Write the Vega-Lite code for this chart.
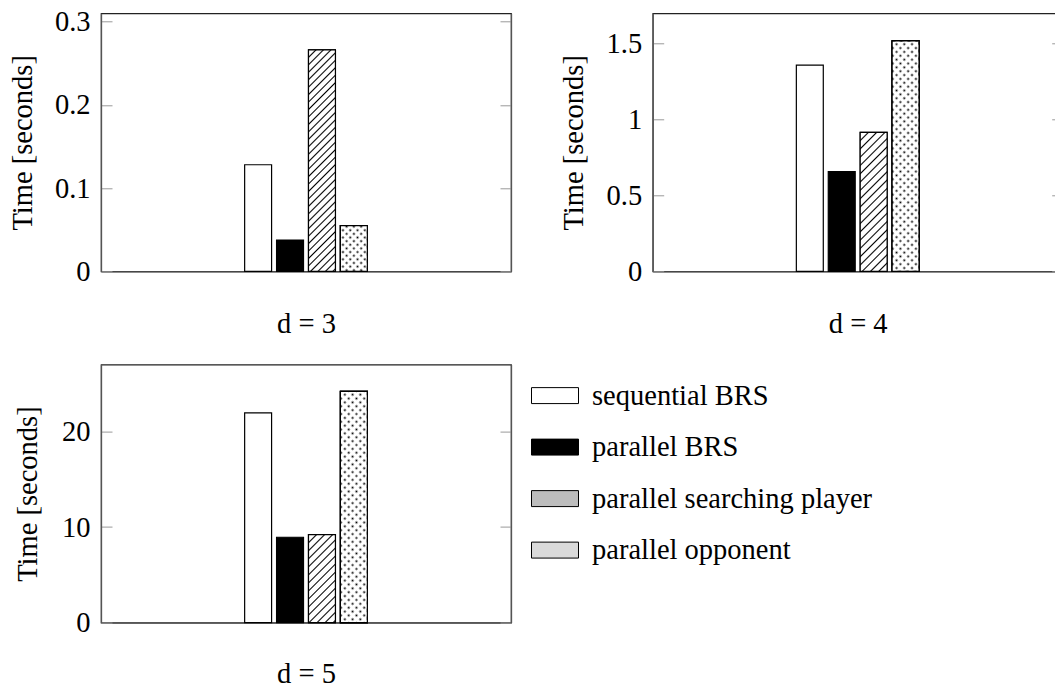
{
"$schema": "https://vega.github.io/schema/vega-lite/v6.json",
"autosize": {"type": "none"},
"padding": {"left": 101, "top": 13.3, "right": 954, "bottom": 675.7},
"background": "white",
"datasets": {
"d3": [{"series": "sequential BRS", "value": 0.128}, {"series": "parallel BRS", "value": 0.0376}, {"series": "parallel searching player", "value": 0.266}, {"series": "parallel opponent", "value": 0.055}],
"d4": [{"series": "sequential BRS", "value": 1.358}, {"series": "parallel BRS", "value": 0.657}, {"series": "parallel searching player", "value": 0.916}, {"series": "parallel opponent", "value": 1.518}],
"d5": [{"series": "sequential BRS", "value": 21.95}, {"series": "parallel BRS", "value": 8.93}, {"series": "parallel searching player", "value": 9.2}, {"series": "parallel opponent", "value": 24.2}]
},
"columns": 2,
"spacing": {"row": 93.3, "column": 141.7},
"bounds": "flush",
"resolve": {"scale": {"color": "independent", "stroke": "independent"}},
"concat": [
{
"width": 410, "height": 258,
"data": {"name": "d3"},
"encoding": {"x": {"field": "series", "type": "nominal", "scale": {"domain": ["p1", "p2", "p3", "p4", "sequential BRS", "parallel BRS", "parallel searching player", "parallel opponent", "q1", "q2", "q3", "q4"], "paddingInner": 0.156, "paddingOuter": 0.5}, "axis": {"labels": false, "ticks": false, "title": "d = 3", "titleY": 61}}},
"layer": [
{"mark": {"type": "bar", "stroke": "black", "strokeWidth": 1.2},
 "encoding": {"y": {"field": "value", "type": "quantitative", "scale": {"domain": [0, 0.31], "nice": false}, "axis": {"orient": "left", "values": [0, 0.1, 0.2, 0.3], "format": "~f", "title": "Time [seconds]", "titleX": -69.5, "titleY": 129}},
 "color": {"field": "series", "type": "nominal", "scale": {"domain": ["sequential BRS", "parallel BRS", "parallel searching player", "parallel opponent"], "range": ["#fff", "#000", "#fff", "#fff"]}, "legend": null}}},
{"transform": [{"filter": {"field": "series", "equal": "parallel searching player"}}],
 "mark": {"type": "bar", "stroke": "black", "strokeWidth": 1.2, "fill": {"gradient": "linear", "x1": 0, "y1": 0, "x2": 0.1345, "y2": 1.1053, "stops": [
{"offset":0.024,"color":"#fff"},{"offset":0.03,"color":"#000"},{"offset":0.036,"color":"#fff"},
{"offset":0.054,"color":"#fff"},{"offset":0.06,"color":"#000"},{"offset":0.066,"color":"#fff"},
{"offset":0.084,"color":"#fff"},{"offset":0.09,"color":"#000"},{"offset":0.096,"color":"#fff"},
{"offset":0.114,"color":"#fff"},{"offset":0.12,"color":"#000"},{"offset":0.126,"color":"#fff"},
{"offset":0.144,"color":"#fff"},{"offset":0.15,"color":"#000"},{"offset":0.156,"color":"#fff"},
{"offset":0.174,"color":"#fff"},{"offset":0.18,"color":"#000"},{"offset":0.186,"color":"#fff"},
{"offset":0.204,"color":"#fff"},{"offset":0.21,"color":"#000"},{"offset":0.216,"color":"#fff"},
{"offset":0.234,"color":"#fff"},{"offset":0.24,"color":"#000"},{"offset":0.246,"color":"#fff"},
{"offset":0.264,"color":"#fff"},{"offset":0.27,"color":"#000"},{"offset":0.276,"color":"#fff"},
{"offset":0.294,"color":"#fff"},{"offset":0.3,"color":"#000"},{"offset":0.306,"color":"#fff"},
{"offset":0.324,"color":"#fff"},{"offset":0.33,"color":"#000"},{"offset":0.336,"color":"#fff"},
{"offset":0.354,"color":"#fff"},{"offset":0.36,"color":"#000"},{"offset":0.366,"color":"#fff"},
{"offset":0.384,"color":"#fff"},{"offset":0.39,"color":"#000"},{"offset":0.396,"color":"#fff"},
{"offset":0.414,"color":"#fff"},{"offset":0.42,"color":"#000"},{"offset":0.426,"color":"#fff"},
{"offset":0.444,"color":"#fff"},{"offset":0.45,"color":"#000"},{"offset":0.456,"color":"#fff"},
{"offset":0.474,"color":"#fff"},{"offset":0.48,"color":"#000"},{"offset":0.486,"color":"#fff"},
{"offset":0.504,"color":"#fff"},{"offset":0.51,"color":"#000"},{"offset":0.516,"color":"#fff"},
{"offset":0.534,"color":"#fff"},{"offset":0.54,"color":"#000"},{"offset":0.546,"color":"#fff"},
{"offset":0.564,"color":"#fff"},{"offset":0.57,"color":"#000"},{"offset":0.576,"color":"#fff"},
{"offset":0.594,"color":"#fff"},{"offset":0.6,"color":"#000"},{"offset":0.606,"color":"#fff"},
{"offset":0.624,"color":"#fff"},{"offset":0.63,"color":"#000"},{"offset":0.636,"color":"#fff"},
{"offset":0.654,"color":"#fff"},{"offset":0.66,"color":"#000"},{"offset":0.666,"color":"#fff"},
{"offset":0.684,"color":"#fff"},{"offset":0.69,"color":"#000"},{"offset":0.696,"color":"#fff"},
{"offset":0.714,"color":"#fff"},{"offset":0.72,"color":"#000"},{"offset":0.726,"color":"#fff"},
{"offset":0.744,"color":"#fff"},{"offset":0.75,"color":"#000"},{"offset":0.756,"color":"#fff"},
{"offset":0.774,"color":"#fff"},{"offset":0.78,"color":"#000"},{"offset":0.786,"color":"#fff"},
{"offset":0.804,"color":"#fff"},{"offset":0.81,"color":"#000"},{"offset":0.816,"color":"#fff"},
{"offset":0.834,"color":"#fff"},{"offset":0.84,"color":"#000"},{"offset":0.846,"color":"#fff"},
{"offset":0.864,"color":"#fff"},{"offset":0.87,"color":"#000"},{"offset":0.876,"color":"#fff"},
{"offset":0.894,"color":"#fff"},{"offset":0.9,"color":"#000"},{"offset":0.906,"color":"#fff"},
{"offset":0.924,"color":"#fff"},{"offset":0.93,"color":"#000"},{"offset":0.936,"color":"#fff"},
{"offset":0.954,"color":"#fff"},{"offset":0.96,"color":"#000"},{"offset":0.966,"color":"#fff"},
{"offset":0.984,"color":"#fff"},{"offset":0.99,"color":"#000"},{"offset":0.996,"color":"#fff"}]}},
 "encoding": {"y": {"field": "value", "type": "quantitative", "axis": null}}},
{"transform": [{"filter": {"field": "series", "equal": "parallel opponent"}}],
 "mark": {"type": "bar", "stroke": "black", "strokeWidth": 1.2, "fill": "#000"},
 "encoding": {"y": {"field": "value", "type": "quantitative", "axis": null}}},
{"transform": [{"filter": {"field": "series", "equal": "parallel opponent"}}],
 "mark": {"type": "bar", "stroke": "black", "strokeWidth": 1.2, "fill": {"gradient": "linear", "x1": 0, "y1": 0, "x2": 0.6941, "y2": 1.18, "stops": [
{"offset":0.065,"color":"#fff"},{"offset":0.1,"color":"#fff0"},{"offset":0.135,"color":"#fff"},
{"offset":0.165,"color":"#fff"},{"offset":0.2,"color":"#fff0"},{"offset":0.235,"color":"#fff"},
{"offset":0.265,"color":"#fff"},{"offset":0.3,"color":"#fff0"},{"offset":0.335,"color":"#fff"},
{"offset":0.365,"color":"#fff"},{"offset":0.4,"color":"#fff0"},{"offset":0.435,"color":"#fff"},
{"offset":0.465,"color":"#fff"},{"offset":0.5,"color":"#fff0"},{"offset":0.535,"color":"#fff"},
{"offset":0.565,"color":"#fff"},{"offset":0.6,"color":"#fff0"},{"offset":0.635,"color":"#fff"},
{"offset":0.665,"color":"#fff"},{"offset":0.7,"color":"#fff0"},{"offset":0.735,"color":"#fff"},
{"offset":0.765,"color":"#fff"},{"offset":0.8,"color":"#fff0"},{"offset":0.835,"color":"#fff"},
{"offset":0.865,"color":"#fff"},{"offset":0.9,"color":"#fff0"},{"offset":0.935,"color":"#fff"}]}},
 "encoding": {"y": {"field": "value", "type": "quantitative", "axis": null}}},
{"transform": [{"filter": {"field": "series", "equal": "parallel opponent"}}],
 "mark": {"type": "bar", "stroke": "black", "strokeWidth": 1.2, "fill": {"gradient": "linear", "x1": 0, "y1": 1, "x2": 0.6941, "y2": -0.18, "stops": [
{"offset":0.065,"color":"#fff"},{"offset":0.1,"color":"#fff0"},{"offset":0.135,"color":"#fff"},
{"offset":0.165,"color":"#fff"},{"offset":0.2,"color":"#fff0"},{"offset":0.235,"color":"#fff"},
{"offset":0.265,"color":"#fff"},{"offset":0.3,"color":"#fff0"},{"offset":0.335,"color":"#fff"},
{"offset":0.365,"color":"#fff"},{"offset":0.4,"color":"#fff0"},{"offset":0.435,"color":"#fff"},
{"offset":0.465,"color":"#fff"},{"offset":0.5,"color":"#fff0"},{"offset":0.535,"color":"#fff"},
{"offset":0.565,"color":"#fff"},{"offset":0.6,"color":"#fff0"},{"offset":0.635,"color":"#fff"},
{"offset":0.665,"color":"#fff"},{"offset":0.7,"color":"#fff0"},{"offset":0.735,"color":"#fff"},
{"offset":0.765,"color":"#fff"},{"offset":0.8,"color":"#fff0"},{"offset":0.835,"color":"#fff"},
{"offset":0.865,"color":"#fff"},{"offset":0.9,"color":"#fff0"},{"offset":0.935,"color":"#fff"}]}},
 "encoding": {"y": {"field": "value", "type": "quantitative", "axis": null}}},
{"mark": {"type": "bar", "opacity": 0},
 "encoding": {"y": {"field": "value", "type": "quantitative", "axis": {"orient": "right", "values": [0, 0.1, 0.2, 0.3], "labels": false, "title": null}}}}
],
"resolve": {"axis": {"y": "independent"}}
},
{
"width": 410, "height": 258,
"data": {"name": "d4"},
"encoding": {"x": {"field": "series", "type": "nominal", "scale": {"domain": ["p1", "p2", "p3", "p4", "sequential BRS", "parallel BRS", "parallel searching player", "parallel opponent", "q1", "q2", "q3", "q4"], "paddingInner": 0.156, "paddingOuter": 0.5}, "axis": {"labels": false, "ticks": false, "title": "d = 4", "titleY": 61}}},
"layer": [
{"mark": {"type": "bar", "stroke": "black", "strokeWidth": 1.2},
 "encoding": {"y": {"field": "value", "type": "quantitative", "scale": {"domain": [0, 1.7], "nice": false}, "axis": {"orient": "left", "values": [0, 0.5, 1, 1.5], "format": "~f", "title": "Time [seconds]", "titleX": -70.5, "titleY": 129}},
 "color": {"field": "series", "type": "nominal", "scale": {"domain": ["sequential BRS", "parallel BRS", "parallel searching player", "parallel opponent"], "range": ["#fff", "#000", "#fff", "#fff"]}, "legend": null}}},
{"transform": [{"filter": {"field": "series", "equal": "parallel searching player"}}],
 "mark": {"type": "bar", "stroke": "black", "strokeWidth": 1.2, "fill": {"gradient": "linear", "x1": 0, "y1": 0, "x2": 0.223, "y2": 1.1506, "stops": [
{"offset":0.041,"color":"#fff"},{"offset":0.05,"color":"#000"},{"offset":0.059,"color":"#fff"},
{"offset":0.091,"color":"#fff"},{"offset":0.1,"color":"#000"},{"offset":0.109,"color":"#fff"},
{"offset":0.141,"color":"#fff"},{"offset":0.15,"color":"#000"},{"offset":0.159,"color":"#fff"},
{"offset":0.191,"color":"#fff"},{"offset":0.2,"color":"#000"},{"offset":0.209,"color":"#fff"},
{"offset":0.241,"color":"#fff"},{"offset":0.25,"color":"#000"},{"offset":0.259,"color":"#fff"},
{"offset":0.291,"color":"#fff"},{"offset":0.3,"color":"#000"},{"offset":0.309,"color":"#fff"},
{"offset":0.341,"color":"#fff"},{"offset":0.35,"color":"#000"},{"offset":0.359,"color":"#fff"},
{"offset":0.391,"color":"#fff"},{"offset":0.4,"color":"#000"},{"offset":0.409,"color":"#fff"},
{"offset":0.441,"color":"#fff"},{"offset":0.45,"color":"#000"},{"offset":0.459,"color":"#fff"},
{"offset":0.491,"color":"#fff"},{"offset":0.5,"color":"#000"},{"offset":0.509,"color":"#fff"},
{"offset":0.541,"color":"#fff"},{"offset":0.55,"color":"#000"},{"offset":0.559,"color":"#fff"},
{"offset":0.591,"color":"#fff"},{"offset":0.6,"color":"#000"},{"offset":0.609,"color":"#fff"},
{"offset":0.641,"color":"#fff"},{"offset":0.65,"color":"#000"},{"offset":0.659,"color":"#fff"},
{"offset":0.691,"color":"#fff"},{"offset":0.7,"color":"#000"},{"offset":0.709,"color":"#fff"},
{"offset":0.741,"color":"#fff"},{"offset":0.75,"color":"#000"},{"offset":0.759,"color":"#fff"},
{"offset":0.791,"color":"#fff"},{"offset":0.8,"color":"#000"},{"offset":0.809,"color":"#fff"},
{"offset":0.841,"color":"#fff"},{"offset":0.85,"color":"#000"},{"offset":0.859,"color":"#fff"},
{"offset":0.891,"color":"#fff"},{"offset":0.9,"color":"#000"},{"offset":0.909,"color":"#fff"},
{"offset":0.941,"color":"#fff"},{"offset":0.95,"color":"#000"},{"offset":0.959,"color":"#fff"}]}},
 "encoding": {"y": {"field": "value", "type": "quantitative", "axis": null}}},
{"transform": [{"filter": {"field": "series", "equal": "parallel opponent"}}],
 "mark": {"type": "bar", "stroke": "black", "strokeWidth": 1.2, "fill": "#000"},
 "encoding": {"y": {"field": "value", "type": "quantitative", "axis": null}}},
{"transform": [{"filter": {"field": "series", "equal": "parallel opponent"}}],
 "mark": {"type": "bar", "stroke": "black", "strokeWidth": 1.2, "fill": {"gradient": "linear", "x1": 0, "y1": 0, "x2": 0.1286, "y2": 1.1017, "stops": [
{"offset":0.02,"color":"#fff"},{"offset":0.03,"color":"#fff0"},{"offset":0.04,"color":"#fff"},
{"offset":0.05,"color":"#fff"},{"offset":0.06,"color":"#fff0"},{"offset":0.07,"color":"#fff"},
{"offset":0.08,"color":"#fff"},{"offset":0.09,"color":"#fff0"},{"offset":0.1,"color":"#fff"},
{"offset":0.11,"color":"#fff"},{"offset":0.12,"color":"#fff0"},{"offset":0.13,"color":"#fff"},
{"offset":0.14,"color":"#fff"},{"offset":0.15,"color":"#fff0"},{"offset":0.16,"color":"#fff"},
{"offset":0.17,"color":"#fff"},{"offset":0.18,"color":"#fff0"},{"offset":0.19,"color":"#fff"},
{"offset":0.2,"color":"#fff"},{"offset":0.21,"color":"#fff0"},{"offset":0.22,"color":"#fff"},
{"offset":0.23,"color":"#fff"},{"offset":0.24,"color":"#fff0"},{"offset":0.25,"color":"#fff"},
{"offset":0.26,"color":"#fff"},{"offset":0.27,"color":"#fff0"},{"offset":0.28,"color":"#fff"},
{"offset":0.29,"color":"#fff"},{"offset":0.3,"color":"#fff0"},{"offset":0.31,"color":"#fff"},
{"offset":0.32,"color":"#fff"},{"offset":0.33,"color":"#fff0"},{"offset":0.34,"color":"#fff"},
{"offset":0.35,"color":"#fff"},{"offset":0.36,"color":"#fff0"},{"offset":0.37,"color":"#fff"},
{"offset":0.38,"color":"#fff"},{"offset":0.39,"color":"#fff0"},{"offset":0.4,"color":"#fff"},
{"offset":0.41,"color":"#fff"},{"offset":0.42,"color":"#fff0"},{"offset":0.43,"color":"#fff"},
{"offset":0.44,"color":"#fff"},{"offset":0.45,"color":"#fff0"},{"offset":0.46,"color":"#fff"},
{"offset":0.47,"color":"#fff"},{"offset":0.48,"color":"#fff0"},{"offset":0.49,"color":"#fff"},
{"offset":0.5,"color":"#fff"},{"offset":0.51,"color":"#fff0"},{"offset":0.52,"color":"#fff"},
{"offset":0.53,"color":"#fff"},{"offset":0.54,"color":"#fff0"},{"offset":0.55,"color":"#fff"},
{"offset":0.56,"color":"#fff"},{"offset":0.57,"color":"#fff0"},{"offset":0.58,"color":"#fff"},
{"offset":0.59,"color":"#fff"},{"offset":0.6,"color":"#fff0"},{"offset":0.61,"color":"#fff"},
{"offset":0.62,"color":"#fff"},{"offset":0.63,"color":"#fff0"},{"offset":0.64,"color":"#fff"},
{"offset":0.65,"color":"#fff"},{"offset":0.66,"color":"#fff0"},{"offset":0.67,"color":"#fff"},
{"offset":0.68,"color":"#fff"},{"offset":0.69,"color":"#fff0"},{"offset":0.7,"color":"#fff"},
{"offset":0.71,"color":"#fff"},{"offset":0.72,"color":"#fff0"},{"offset":0.73,"color":"#fff"},
{"offset":0.74,"color":"#fff"},{"offset":0.75,"color":"#fff0"},{"offset":0.76,"color":"#fff"},
{"offset":0.77,"color":"#fff"},{"offset":0.78,"color":"#fff0"},{"offset":0.79,"color":"#fff"},
{"offset":0.8,"color":"#fff"},{"offset":0.81,"color":"#fff0"},{"offset":0.82,"color":"#fff"},
{"offset":0.83,"color":"#fff"},{"offset":0.84,"color":"#fff0"},{"offset":0.85,"color":"#fff"},
{"offset":0.86,"color":"#fff"},{"offset":0.87,"color":"#fff0"},{"offset":0.88,"color":"#fff"},
{"offset":0.89,"color":"#fff"},{"offset":0.9,"color":"#fff0"},{"offset":0.91,"color":"#fff"},
{"offset":0.92,"color":"#fff"},{"offset":0.93,"color":"#fff0"},{"offset":0.94,"color":"#fff"},
{"offset":0.95,"color":"#fff"},{"offset":0.96,"color":"#fff0"},{"offset":0.97,"color":"#fff"},
{"offset":0.98,"color":"#fff"},{"offset":0.99,"color":"#fff0"},{"offset":1,"color":"#fff"}]}},
 "encoding": {"y": {"field": "value", "type": "quantitative", "axis": null}}},
{"transform": [{"filter": {"field": "series", "equal": "parallel opponent"}}],
 "mark": {"type": "bar", "stroke": "black", "strokeWidth": 1.2, "fill": {"gradient": "linear", "x1": 0, "y1": 1, "x2": 0.1286, "y2": -0.1017, "stops": [
{"offset":0.02,"color":"#fff"},{"offset":0.03,"color":"#fff0"},{"offset":0.04,"color":"#fff"},
{"offset":0.05,"color":"#fff"},{"offset":0.06,"color":"#fff0"},{"offset":0.07,"color":"#fff"},
{"offset":0.08,"color":"#fff"},{"offset":0.09,"color":"#fff0"},{"offset":0.1,"color":"#fff"},
{"offset":0.11,"color":"#fff"},{"offset":0.12,"color":"#fff0"},{"offset":0.13,"color":"#fff"},
{"offset":0.14,"color":"#fff"},{"offset":0.15,"color":"#fff0"},{"offset":0.16,"color":"#fff"},
{"offset":0.17,"color":"#fff"},{"offset":0.18,"color":"#fff0"},{"offset":0.19,"color":"#fff"},
{"offset":0.2,"color":"#fff"},{"offset":0.21,"color":"#fff0"},{"offset":0.22,"color":"#fff"},
{"offset":0.23,"color":"#fff"},{"offset":0.24,"color":"#fff0"},{"offset":0.25,"color":"#fff"},
{"offset":0.26,"color":"#fff"},{"offset":0.27,"color":"#fff0"},{"offset":0.28,"color":"#fff"},
{"offset":0.29,"color":"#fff"},{"offset":0.3,"color":"#fff0"},{"offset":0.31,"color":"#fff"},
{"offset":0.32,"color":"#fff"},{"offset":0.33,"color":"#fff0"},{"offset":0.34,"color":"#fff"},
{"offset":0.35,"color":"#fff"},{"offset":0.36,"color":"#fff0"},{"offset":0.37,"color":"#fff"},
{"offset":0.38,"color":"#fff"},{"offset":0.39,"color":"#fff0"},{"offset":0.4,"color":"#fff"},
{"offset":0.41,"color":"#fff"},{"offset":0.42,"color":"#fff0"},{"offset":0.43,"color":"#fff"},
{"offset":0.44,"color":"#fff"},{"offset":0.45,"color":"#fff0"},{"offset":0.46,"color":"#fff"},
{"offset":0.47,"color":"#fff"},{"offset":0.48,"color":"#fff0"},{"offset":0.49,"color":"#fff"},
{"offset":0.5,"color":"#fff"},{"offset":0.51,"color":"#fff0"},{"offset":0.52,"color":"#fff"},
{"offset":0.53,"color":"#fff"},{"offset":0.54,"color":"#fff0"},{"offset":0.55,"color":"#fff"},
{"offset":0.56,"color":"#fff"},{"offset":0.57,"color":"#fff0"},{"offset":0.58,"color":"#fff"},
{"offset":0.59,"color":"#fff"},{"offset":0.6,"color":"#fff0"},{"offset":0.61,"color":"#fff"},
{"offset":0.62,"color":"#fff"},{"offset":0.63,"color":"#fff0"},{"offset":0.64,"color":"#fff"},
{"offset":0.65,"color":"#fff"},{"offset":0.66,"color":"#fff0"},{"offset":0.67,"color":"#fff"},
{"offset":0.68,"color":"#fff"},{"offset":0.69,"color":"#fff0"},{"offset":0.7,"color":"#fff"},
{"offset":0.71,"color":"#fff"},{"offset":0.72,"color":"#fff0"},{"offset":0.73,"color":"#fff"},
{"offset":0.74,"color":"#fff"},{"offset":0.75,"color":"#fff0"},{"offset":0.76,"color":"#fff"},
{"offset":0.77,"color":"#fff"},{"offset":0.78,"color":"#fff0"},{"offset":0.79,"color":"#fff"},
{"offset":0.8,"color":"#fff"},{"offset":0.81,"color":"#fff0"},{"offset":0.82,"color":"#fff"},
{"offset":0.83,"color":"#fff"},{"offset":0.84,"color":"#fff0"},{"offset":0.85,"color":"#fff"},
{"offset":0.86,"color":"#fff"},{"offset":0.87,"color":"#fff0"},{"offset":0.88,"color":"#fff"},
{"offset":0.89,"color":"#fff"},{"offset":0.9,"color":"#fff0"},{"offset":0.91,"color":"#fff"},
{"offset":0.92,"color":"#fff"},{"offset":0.93,"color":"#fff0"},{"offset":0.94,"color":"#fff"},
{"offset":0.95,"color":"#fff"},{"offset":0.96,"color":"#fff0"},{"offset":0.97,"color":"#fff"},
{"offset":0.98,"color":"#fff"},{"offset":0.99,"color":"#fff0"},{"offset":1,"color":"#fff"}]}},
 "encoding": {"y": {"field": "value", "type": "quantitative", "axis": null}}},
{"mark": {"type": "bar", "opacity": 0},
 "encoding": {"y": {"field": "value", "type": "quantitative", "axis": {"orient": "right", "values": [0, 0.5, 1, 1.5], "labels": false, "title": null}}}}
],
"resolve": {"axis": {"y": "independent"}}
},
{
"width": 410, "height": 258,
"data": {"name": "d5"},
"encoding": {"x": {"field": "series", "type": "nominal", "scale": {"domain": ["p1", "p2", "p3", "p4", "sequential BRS", "parallel BRS", "parallel searching player", "parallel opponent", "q1", "q2", "q3", "q4"], "paddingInner": 0.156, "paddingOuter": 0.5}, "axis": {"labels": false, "ticks": false, "title": "d = 5", "titleY": 60}}},
"layer": [
{"mark": {"type": "bar", "strokeWidth": 1.2},
 "encoding": {"y": {"field": "value", "type": "quantitative", "scale": {"domain": [0, 27], "nice": false}, "axis": {"orient": "left", "values": [0, 10, 20], "format": "~f", "title": "Time [seconds]", "titleX": -64.5, "titleY": 129}},
 "color": {"field": "series", "type": "nominal", "scale": {"domain": ["sequential BRS", "parallel BRS", "parallel searching player", "parallel opponent"], "range": ["#fff", "#000", "#bdbdbd", "#dadada"]},
 "legend": {"orient": "none", "legendX": 430, "legendY": 7, "title": null, "direction": "vertical", "symbolType": "M-1,-0.34H1V0.34H-1Z", "symbolSize": 2209, "symbolStrokeWidth": 1, "symbolOpacity": 1, "labelFont": "Liberation Serif", "labelFontSize": 28.5, "labelColor": "#000", "labelOffset": 13, "rowPadding": 12.5, "labelLimit": 600, "padding": 0}},
 "stroke": {"field": "series", "type": "nominal", "scale": {"domain": ["sequential BRS", "parallel BRS", "parallel searching player", "parallel opponent"], "range": ["#000", "#000", "#000", "#000"]},
 "legend": {"orient": "none", "legendX": 430, "legendY": 7, "title": null, "direction": "vertical", "symbolType": "M-1,-0.34H1V0.34H-1Z", "symbolSize": 2209, "symbolStrokeWidth": 1, "symbolOpacity": 1, "labelFont": "Liberation Serif", "labelFontSize": 28.5, "labelColor": "#000", "labelOffset": 13, "rowPadding": 12.5, "labelLimit": 600, "padding": 0}}}},
{"transform": [{"filter": {"field": "series", "equal": "parallel searching player"}}],
 "mark": {"type": "bar", "stroke": "black", "strokeWidth": 1.2, "fill": {"gradient": "linear", "x1": 0, "y1": 0, "x2": 0.366, "y2": 1.1943, "stops": [
{"offset":0.057,"color":"#fff"},{"offset":0.07,"color":"#000"},{"offset":0.083,"color":"#fff"},
{"offset":0.127,"color":"#fff"},{"offset":0.14,"color":"#000"},{"offset":0.153,"color":"#fff"},
{"offset":0.197,"color":"#fff"},{"offset":0.21,"color":"#000"},{"offset":0.223,"color":"#fff"},
{"offset":0.267,"color":"#fff"},{"offset":0.28,"color":"#000"},{"offset":0.293,"color":"#fff"},
{"offset":0.337,"color":"#fff"},{"offset":0.35,"color":"#000"},{"offset":0.363,"color":"#fff"},
{"offset":0.407,"color":"#fff"},{"offset":0.42,"color":"#000"},{"offset":0.433,"color":"#fff"},
{"offset":0.477,"color":"#fff"},{"offset":0.49,"color":"#000"},{"offset":0.503,"color":"#fff"},
{"offset":0.547,"color":"#fff"},{"offset":0.56,"color":"#000"},{"offset":0.573,"color":"#fff"},
{"offset":0.617,"color":"#fff"},{"offset":0.63,"color":"#000"},{"offset":0.643,"color":"#fff"},
{"offset":0.687,"color":"#fff"},{"offset":0.7,"color":"#000"},{"offset":0.713,"color":"#fff"},
{"offset":0.757,"color":"#fff"},{"offset":0.77,"color":"#000"},{"offset":0.783,"color":"#fff"},
{"offset":0.827,"color":"#fff"},{"offset":0.84,"color":"#000"},{"offset":0.853,"color":"#fff"},
{"offset":0.897,"color":"#fff"},{"offset":0.91,"color":"#000"},{"offset":0.923,"color":"#fff"},
{"offset":0.967,"color":"#fff"},{"offset":0.98,"color":"#000"},{"offset":0.993,"color":"#fff"}]}},
 "encoding": {"y": {"field": "value", "type": "quantitative", "axis": null}}},
{"transform": [{"filter": {"field": "series", "equal": "parallel opponent"}}],
 "mark": {"type": "bar", "stroke": "black", "strokeWidth": 1.2, "fill": "#000"},
 "encoding": {"y": {"field": "value", "type": "quantitative", "axis": null}}},
{"transform": [{"filter": {"field": "series", "equal": "parallel opponent"}}],
 "mark": {"type": "bar", "stroke": "black", "strokeWidth": 1.2, "fill": {"gradient": "linear", "x1": 0, "y1": 0, "x2": 0.1286, "y2": 1.1017, "stops": [
{"offset":0.02,"color":"#fff"},{"offset":0.03,"color":"#fff0"},{"offset":0.04,"color":"#fff"},
{"offset":0.05,"color":"#fff"},{"offset":0.06,"color":"#fff0"},{"offset":0.07,"color":"#fff"},
{"offset":0.08,"color":"#fff"},{"offset":0.09,"color":"#fff0"},{"offset":0.1,"color":"#fff"},
{"offset":0.11,"color":"#fff"},{"offset":0.12,"color":"#fff0"},{"offset":0.13,"color":"#fff"},
{"offset":0.14,"color":"#fff"},{"offset":0.15,"color":"#fff0"},{"offset":0.16,"color":"#fff"},
{"offset":0.17,"color":"#fff"},{"offset":0.18,"color":"#fff0"},{"offset":0.19,"color":"#fff"},
{"offset":0.2,"color":"#fff"},{"offset":0.21,"color":"#fff0"},{"offset":0.22,"color":"#fff"},
{"offset":0.23,"color":"#fff"},{"offset":0.24,"color":"#fff0"},{"offset":0.25,"color":"#fff"},
{"offset":0.26,"color":"#fff"},{"offset":0.27,"color":"#fff0"},{"offset":0.28,"color":"#fff"},
{"offset":0.29,"color":"#fff"},{"offset":0.3,"color":"#fff0"},{"offset":0.31,"color":"#fff"},
{"offset":0.32,"color":"#fff"},{"offset":0.33,"color":"#fff0"},{"offset":0.34,"color":"#fff"},
{"offset":0.35,"color":"#fff"},{"offset":0.36,"color":"#fff0"},{"offset":0.37,"color":"#fff"},
{"offset":0.38,"color":"#fff"},{"offset":0.39,"color":"#fff0"},{"offset":0.4,"color":"#fff"},
{"offset":0.41,"color":"#fff"},{"offset":0.42,"color":"#fff0"},{"offset":0.43,"color":"#fff"},
{"offset":0.44,"color":"#fff"},{"offset":0.45,"color":"#fff0"},{"offset":0.46,"color":"#fff"},
{"offset":0.47,"color":"#fff"},{"offset":0.48,"color":"#fff0"},{"offset":0.49,"color":"#fff"},
{"offset":0.5,"color":"#fff"},{"offset":0.51,"color":"#fff0"},{"offset":0.52,"color":"#fff"},
{"offset":0.53,"color":"#fff"},{"offset":0.54,"color":"#fff0"},{"offset":0.55,"color":"#fff"},
{"offset":0.56,"color":"#fff"},{"offset":0.57,"color":"#fff0"},{"offset":0.58,"color":"#fff"},
{"offset":0.59,"color":"#fff"},{"offset":0.6,"color":"#fff0"},{"offset":0.61,"color":"#fff"},
{"offset":0.62,"color":"#fff"},{"offset":0.63,"color":"#fff0"},{"offset":0.64,"color":"#fff"},
{"offset":0.65,"color":"#fff"},{"offset":0.66,"color":"#fff0"},{"offset":0.67,"color":"#fff"},
{"offset":0.68,"color":"#fff"},{"offset":0.69,"color":"#fff0"},{"offset":0.7,"color":"#fff"},
{"offset":0.71,"color":"#fff"},{"offset":0.72,"color":"#fff0"},{"offset":0.73,"color":"#fff"},
{"offset":0.74,"color":"#fff"},{"offset":0.75,"color":"#fff0"},{"offset":0.76,"color":"#fff"},
{"offset":0.77,"color":"#fff"},{"offset":0.78,"color":"#fff0"},{"offset":0.79,"color":"#fff"},
{"offset":0.8,"color":"#fff"},{"offset":0.81,"color":"#fff0"},{"offset":0.82,"color":"#fff"},
{"offset":0.83,"color":"#fff"},{"offset":0.84,"color":"#fff0"},{"offset":0.85,"color":"#fff"},
{"offset":0.86,"color":"#fff"},{"offset":0.87,"color":"#fff0"},{"offset":0.88,"color":"#fff"},
{"offset":0.89,"color":"#fff"},{"offset":0.9,"color":"#fff0"},{"offset":0.91,"color":"#fff"},
{"offset":0.92,"color":"#fff"},{"offset":0.93,"color":"#fff0"},{"offset":0.94,"color":"#fff"},
{"offset":0.95,"color":"#fff"},{"offset":0.96,"color":"#fff0"},{"offset":0.97,"color":"#fff"},
{"offset":0.98,"color":"#fff"},{"offset":0.99,"color":"#fff0"},{"offset":1,"color":"#fff"}]}},
 "encoding": {"y": {"field": "value", "type": "quantitative", "axis": null}}},
{"transform": [{"filter": {"field": "series", "equal": "parallel opponent"}}],
 "mark": {"type": "bar", "stroke": "black", "strokeWidth": 1.2, "fill": {"gradient": "linear", "x1": 0, "y1": 1, "x2": 0.1286, "y2": -0.1017, "stops": [
{"offset":0.02,"color":"#fff"},{"offset":0.03,"color":"#fff0"},{"offset":0.04,"color":"#fff"},
{"offset":0.05,"color":"#fff"},{"offset":0.06,"color":"#fff0"},{"offset":0.07,"color":"#fff"},
{"offset":0.08,"color":"#fff"},{"offset":0.09,"color":"#fff0"},{"offset":0.1,"color":"#fff"},
{"offset":0.11,"color":"#fff"},{"offset":0.12,"color":"#fff0"},{"offset":0.13,"color":"#fff"},
{"offset":0.14,"color":"#fff"},{"offset":0.15,"color":"#fff0"},{"offset":0.16,"color":"#fff"},
{"offset":0.17,"color":"#fff"},{"offset":0.18,"color":"#fff0"},{"offset":0.19,"color":"#fff"},
{"offset":0.2,"color":"#fff"},{"offset":0.21,"color":"#fff0"},{"offset":0.22,"color":"#fff"},
{"offset":0.23,"color":"#fff"},{"offset":0.24,"color":"#fff0"},{"offset":0.25,"color":"#fff"},
{"offset":0.26,"color":"#fff"},{"offset":0.27,"color":"#fff0"},{"offset":0.28,"color":"#fff"},
{"offset":0.29,"color":"#fff"},{"offset":0.3,"color":"#fff0"},{"offset":0.31,"color":"#fff"},
{"offset":0.32,"color":"#fff"},{"offset":0.33,"color":"#fff0"},{"offset":0.34,"color":"#fff"},
{"offset":0.35,"color":"#fff"},{"offset":0.36,"color":"#fff0"},{"offset":0.37,"color":"#fff"},
{"offset":0.38,"color":"#fff"},{"offset":0.39,"color":"#fff0"},{"offset":0.4,"color":"#fff"},
{"offset":0.41,"color":"#fff"},{"offset":0.42,"color":"#fff0"},{"offset":0.43,"color":"#fff"},
{"offset":0.44,"color":"#fff"},{"offset":0.45,"color":"#fff0"},{"offset":0.46,"color":"#fff"},
{"offset":0.47,"color":"#fff"},{"offset":0.48,"color":"#fff0"},{"offset":0.49,"color":"#fff"},
{"offset":0.5,"color":"#fff"},{"offset":0.51,"color":"#fff0"},{"offset":0.52,"color":"#fff"},
{"offset":0.53,"color":"#fff"},{"offset":0.54,"color":"#fff0"},{"offset":0.55,"color":"#fff"},
{"offset":0.56,"color":"#fff"},{"offset":0.57,"color":"#fff0"},{"offset":0.58,"color":"#fff"},
{"offset":0.59,"color":"#fff"},{"offset":0.6,"color":"#fff0"},{"offset":0.61,"color":"#fff"},
{"offset":0.62,"color":"#fff"},{"offset":0.63,"color":"#fff0"},{"offset":0.64,"color":"#fff"},
{"offset":0.65,"color":"#fff"},{"offset":0.66,"color":"#fff0"},{"offset":0.67,"color":"#fff"},
{"offset":0.68,"color":"#fff"},{"offset":0.69,"color":"#fff0"},{"offset":0.7,"color":"#fff"},
{"offset":0.71,"color":"#fff"},{"offset":0.72,"color":"#fff0"},{"offset":0.73,"color":"#fff"},
{"offset":0.74,"color":"#fff"},{"offset":0.75,"color":"#fff0"},{"offset":0.76,"color":"#fff"},
{"offset":0.77,"color":"#fff"},{"offset":0.78,"color":"#fff0"},{"offset":0.79,"color":"#fff"},
{"offset":0.8,"color":"#fff"},{"offset":0.81,"color":"#fff0"},{"offset":0.82,"color":"#fff"},
{"offset":0.83,"color":"#fff"},{"offset":0.84,"color":"#fff0"},{"offset":0.85,"color":"#fff"},
{"offset":0.86,"color":"#fff"},{"offset":0.87,"color":"#fff0"},{"offset":0.88,"color":"#fff"},
{"offset":0.89,"color":"#fff"},{"offset":0.9,"color":"#fff0"},{"offset":0.91,"color":"#fff"},
{"offset":0.92,"color":"#fff"},{"offset":0.93,"color":"#fff0"},{"offset":0.94,"color":"#fff"},
{"offset":0.95,"color":"#fff"},{"offset":0.96,"color":"#fff0"},{"offset":0.97,"color":"#fff"},
{"offset":0.98,"color":"#fff"},{"offset":0.99,"color":"#fff0"},{"offset":1,"color":"#fff"}]}},
 "encoding": {"y": {"field": "value", "type": "quantitative", "axis": null}}},
{"mark": {"type": "bar", "opacity": 0},
 "encoding": {"y": {"field": "value", "type": "quantitative", "axis": {"orient": "right", "values": [0, 10, 20], "labels": false, "title": null}}}}
],
"resolve": {"axis": {"y": "independent"}}
}
],
"config": {
"font": "Liberation Serif",
"view": {"stroke": "#222", "strokeWidth": 1.2},
"axis": {"labelFont": "Liberation Serif", "labelFontSize": 28.5, "labelColor": "#000", "titleFont": "Liberation Serif", "titleFontSize": 28.5, "titleFontWeight": "normal", "titleColor": "#000", "grid": false, "domainColor": "#555", "domainWidth": 1.3, "tickColor": "#999", "tickWidth": 1, "tickSize": -11, "labelPadding": 22, "labelFlush": false, "titleAlign": "center", "titleBaseline": "alphabetic"}
}
}
